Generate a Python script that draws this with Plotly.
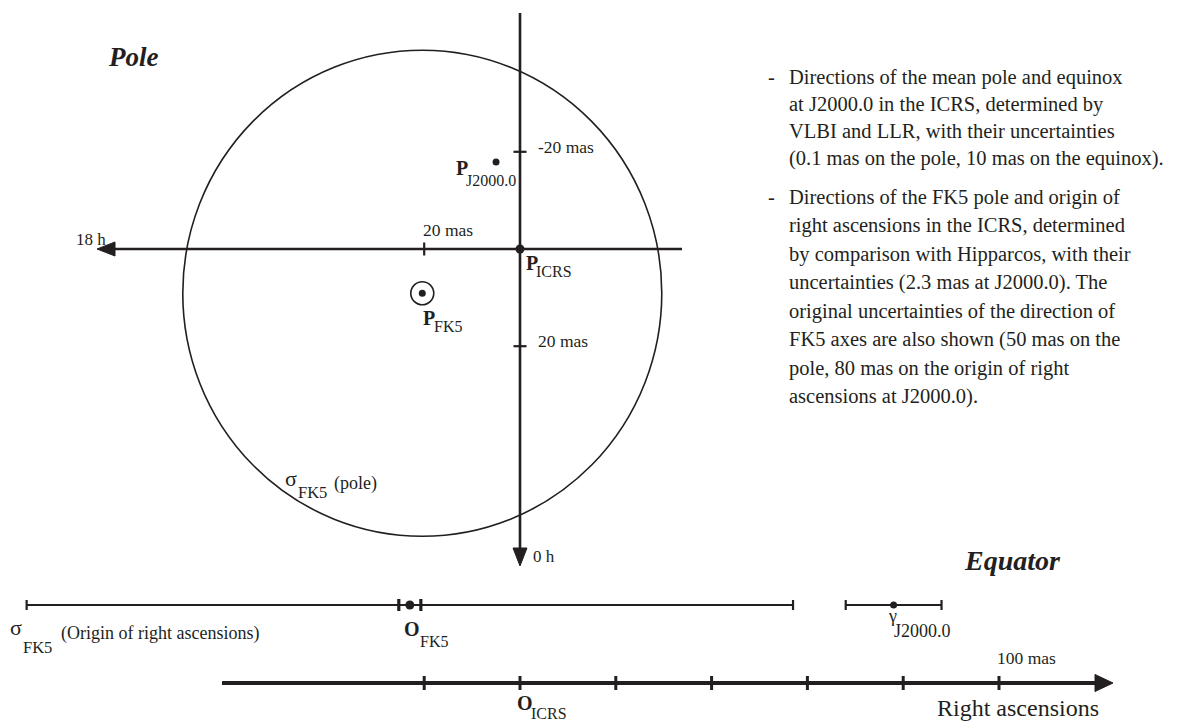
import plotly.graph_objects as go

INK = "#231f20"
SERIF = "Liberation Serif, Times New Roman, serif"

# ---------------- pole plane: offsets in mas from the ICRS pole ----------------
pole_names = ["ICRS", "J2000.0", "FK5"]
pole_dx = [0.0, -5.0, -20.4]      # towards 18 h is negative
pole_dy = [0.0, 17.9, -9.1]       # towards 0 h is negative
fk5_pole_sigma = 50.0
pole_xticks = [-20]
pole_xtick_text = ["20 mas"]
pole_yticks = [20, -20]
pole_ytick_text = ["-20 mas", "20 mas"]

# ---------------- equator: right ascension offsets in mas from the ICRS origin ----------------
ra_ticks = [-20, 0, 20, 40, 60, 80, 100]
ra_tick_label = "100 mas"
o_fk5 = -23.0
o_fk5_err = 2.3
fk5_origin_sigma = 80.0
gamma_j2000 = 78.0
gamma_err = 10.0

notes_1 = [
    "Directions of the mean pole and equinox",
    "at J2000.0 in the ICRS, determined by",
    "VLBI and LLR, with their uncertainties",
    "(0.1 mas on the pole, 10 mas on the equinox).",
]
notes_2 = [
    "Directions of the FK5 pole and origin of",
    "right ascensions in the ICRS, determined",
    "by comparison with Hipparcos, with their",
    "uncertainties (2.3 mas at J2000.0). The",
    "original uncertainties of the direction of",
    "FK5 axes are also shown (50 mas on the",
    "pole, 80 mas on the origin of right",
    "ascensions at J2000.0).",
]

# ---------------- page geometry ----------------
W, H = 1180, 722
PX_X, PX_Y = 4.79, 4.86          # pixels per mas
X0_PX, Y0_PX = 520, 249          # page position of the ICRS pole / origin


def X(px):
    return (px - X0_PX) / PX_X


def Y(py):
    return (Y0_PX - py) / PX_Y


def lx(n):
    return n / PX_X


def ly(n):
    return n / PX_Y


ROW_FK5 = Y(605)
ROW_RA = Y(683)

fig = go.Figure()


def line(xs, ys, w):
    fig.add_trace(go.Scatter(x=xs, y=ys, mode="lines", line=dict(color=INK, width=w),
                             hoverinfo="skip", showlegend=False))


def poly(xs, ys):
    fig.add_trace(go.Scatter(x=xs, y=ys, mode="lines", fill="toself", fillcolor=INK,
                             line=dict(color=INK, width=1), hoverinfo="skip", showlegend=False))


def dots(xs, ys, size, symbol="circle", lw=0):
    fig.add_trace(go.Scatter(x=xs, y=ys, mode="markers",
                             marker=dict(symbol=symbol, size=size, color=INK,
                                         line=dict(color=INK, width=lw)),
                             hoverinfo="skip", showlegend=False))


annotations = []


def text(x, y, s, size, dxp=0, dyp=0, xanchor="center", bold=False, italic=False):
    if bold:
        s = "<b>" + s + "</b>"
    if italic:
        s = "<i>" + s + "</i>"
    annotations.append(dict(x=x, y=y, xref="x", yref="y", text=s, showarrow=False,
                            xanchor=xanchor, yanchor="middle", xshift=dxp, yshift=-dyp,
                            font=dict(family=SERIF, size=size, color=INK)))


# ---------------- pole plane ----------------
v_top, v_tip = Y(13), Y(566)
line([0, 0], [v_top, v_tip + ly(14)], 2.6)
poly([-lx(7), lx(7), 0, -lx(7)], [v_tip + ly(18), v_tip + ly(18), v_tip, v_tip + ly(18)])

h_right, h_tip = X(682), X(97)
line([h_right, h_tip + lx(14)], [0, 0], 2.6)
poly([h_tip + lx(18), h_tip + lx(18), h_tip, h_tip + lx(18)], [ly(7), -ly(7), 0, ly(7)])

for xt, lab in zip(pole_xticks, pole_xtick_text):
    line([xt, xt], [-ly(6.5), ly(6.5)], 2.2)
    text(xt, 0, lab, 17.5, dxp=24, dyp=-19)
for yt, lab in zip(pole_yticks, pole_ytick_text):
    line([-lx(6.5), lx(6.5)], [yt, yt], 2.2)
    text(0, yt, lab, 17.5, dxp=16, dyp=-5, xanchor="left")

text(h_tip, 0, "18 h", 17, dxp=-6, dyp=-10)
text(0, v_tip, "0 h", 17, dxp=24, dyp=-10)

# FK5 pole uncertainty circle
fig.add_shape(type="circle", xref="x", yref="y",
              x0=pole_dx[2] - fk5_pole_sigma, x1=pole_dx[2] + fk5_pole_sigma,
              y0=pole_dy[2] - fk5_pole_sigma, y1=pole_dy[2] + fk5_pole_sigma,
              line=dict(color=INK, width=1.6))

dots([pole_dx[0]], [pole_dy[0]], 9)
dots([pole_dx[1]], [pole_dy[1]], 7)
dots([pole_dx[2]], [pole_dy[2]], 23, symbol="circle-open", lw=1.6)
dots([pole_dx[2]], [pole_dy[2]], 7)

# pole labels: (main letter offset, subscript offset) in pixels
pole_label_offsets = [((12, 14), (34, 22)), ((-34, 6), (-5, 18)), ((7, 25), (26, 33))]
for name, px_, py_, (m, s) in zip(pole_names, pole_dx, pole_dy, pole_label_offsets):
    text(px_, py_, "P", 20, dxp=m[0], dyp=m[1], bold=True)
    text(px_, py_, name, 16, dxp=s[0], dyp=s[1])

text(X(291), Y(478), "σ", 22)
text(X(312), Y(492), "FK5", 16.5)
text(X(355), Y(483), "(pole)", 18)

text(X(133), Y(57), "Pole", 27, bold=True, italic=True)

# ---------------- equator ----------------
lo, hi = o_fk5 - fk5_origin_sigma, o_fk5 + fk5_origin_sigma
line([lo, hi], [ROW_FK5, ROW_FK5], 2.2)
line([lo, lo, None, hi, hi], [ROW_FK5 - ly(5), ROW_FK5 + ly(5), None, ROW_FK5 - ly(5), ROW_FK5 + ly(5)], 2.2)
e0, e1 = o_fk5 - o_fk5_err, o_fk5 + o_fk5_err
line([e0, e0, None, e1, e1], [ROW_FK5 - ly(6), ROW_FK5 + ly(6), None, ROW_FK5 - ly(6), ROW_FK5 + ly(6)], 3.2)
dots([o_fk5], [ROW_FK5], 9)

g0, g1 = gamma_j2000 - gamma_err, gamma_j2000 + gamma_err
line([g0, g1], [ROW_FK5, ROW_FK5], 2.2)
line([g0, g0, None, g1, g1], [ROW_FK5 - ly(5), ROW_FK5 + ly(5), None, ROW_FK5 - ly(5), ROW_FK5 + ly(5)], 2.2)
dots([gamma_j2000], [ROW_FK5], 7)

ra_start, ra_tip = X(222), X(1113)
line([ra_start, ra_tip - lx(14)], [ROW_RA, ROW_RA], 4)
poly([ra_tip - lx(18), ra_tip - lx(18), ra_tip, ra_tip - lx(18)],
     [ROW_RA + ly(8.5), ROW_RA - ly(8.5), ROW_RA, ROW_RA + ly(8.5)])
tx, ty = [], []
for t in ra_ticks:
    tx += [t, t, None]
    ty += [ROW_RA - ly(7), ROW_RA + ly(7), None]
line(tx, ty, 3)
text(ra_ticks[-1], ROW_RA, ra_tick_label, 17.5, dxp=27, dyp=-25)

text(o_fk5, ROW_FK5, "O", 20, dxp=2, dyp=24, bold=True)
text(o_fk5, ROW_FK5, "FK5", 16, dxp=24, dyp=36)
text(0, ROW_RA, "O", 20, dxp=5, dyp=20, bold=True)
text(0, ROW_RA, "ICRS", 16, dxp=29, dyp=30)
text(gamma_j2000, ROW_FK5, "γ", 18, dxp=-1, dyp=11)
text(gamma_j2000, ROW_FK5, "J2000.0", 18, dxp=29, dyp=26)

text(lo, ROW_FK5, "σ", 22, dxp=-11, dyp=22)
text(lo, ROW_FK5, "FK5", 16.5, dxp=11, dyp=42)
text(lo, ROW_FK5, "(Origin of right ascensions)", 18, dxp=133, dyp=28)

text(X(1012), Y(560), "Equator", 28, bold=True, italic=True)
text(X(1018), Y(708), "Right ascensions", 24)

# ---------------- notes ----------------
for rows, start, step in ((notes_1, 77, 27.0), (notes_2, 197, 28.5)):
    text(X(771), Y(start), "-", 20.5)
    for i, s in enumerate(rows):
        text(X(787), Y(start + i * step), s, 20.5, xanchor="left")

fig.update_layout(
    width=W, height=H,
    margin=dict(l=0, r=0, t=0, b=0),
    paper_bgcolor="white", plot_bgcolor="white",
    xaxis=dict(range=[X(0), X(W)], visible=False, fixedrange=True),
    yaxis=dict(range=[Y(H), Y(0)], visible=False, fixedrange=True),
    annotations=annotations,
    showlegend=False,
)

fig.write_html("out.html")
